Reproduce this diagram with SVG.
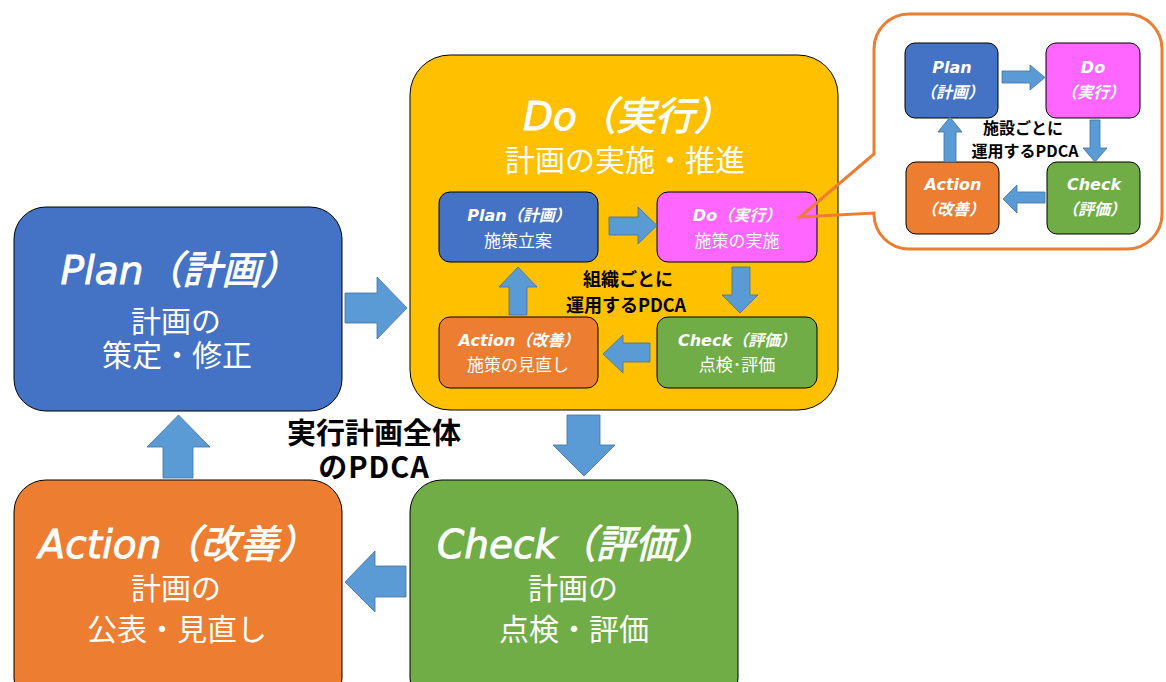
<svg xmlns="http://www.w3.org/2000/svg" width="1166" height="682" viewBox="0 0 1166 682">
<style>
text{font-family:"Noto Sans CJK JP","Noto Sans",sans-serif;text-anchor:middle}
.w{fill:#fff}
.k{fill:#000;font-weight:bold}
.ti{font-style:italic;font-family:"DejaVu Sans","Noto Sans CJK JP",sans-serif;stroke:#fff;stroke-width:0.9}
.big{font-size:39px}
.sub{font-size:30px}
.st{font-size:16px;font-weight:bold;font-style:italic;font-family:"DejaVu Sans","Noto Sans CJK JP",sans-serif}
.ss{font-size:17px}
.ct{font-size:16px;font-weight:bold;font-style:italic;font-family:"DejaVu Sans","Noto Sans CJK JP",sans-serif}
.box{stroke:#000;stroke-width:1}
.arr{fill:#5B9BD5;stroke:#41719C;stroke-width:0.8}
</style>
<rect width="1166" height="682" fill="#fff"/>
<g id="plan"><rect class="box" x="14" y="207" width="328" height="204" rx="32" fill="#4472C4"/>
<text class="w big ti" x="180" y="284">Plan（計画）</text>
<text class="w sub" x="176" y="332">計画の</text>
<text class="w sub" x="177" y="366">策定・修正</text></g>
<g id="do"><rect class="box" x="410" y="55" width="428" height="355" rx="40" fill="#FFC000"/>
<text class="w big ti" x="628" y="130">Do（実行）</text>
<text class="w sub" x="625" y="171">計画の実施・推進</text></g>
<g id="action"><rect class="box" x="14" y="480" width="328" height="230" rx="32" fill="#ED7D31"/>
<text class="w big ti" x="178" y="558">Action（改善）</text>
<text class="w sub" x="176" y="599">計画の</text>
<text class="w sub" x="177" y="640">公表・見直し</text></g>
<g id="check"><rect class="box" x="410" y="480" width="328" height="230" rx="32" fill="#70AD47"/>
<text class="w big ti" x="575" y="558">Check（評価）</text>
<text class="w sub" x="573" y="599">計画の</text>
<text class="w sub" x="574" y="640">点検・評価</text></g>
<g id="in-plan"><rect class="box" x="439" y="192" width="159" height="70" rx="11" fill="#4472C4"/>
<text class="w st" x="519" y="221">Plan（計画）</text>
<text class="w ss" x="518" y="247">施策立案</text></g>
<g id="in-do"><rect class="box" x="657" y="192" width="160" height="70" rx="11" fill="#FF66FF"/>
<text class="w st" x="737" y="221">Do（実行）</text>
<text class="w ss" x="737" y="247">施策の実施</text></g>
<g id="in-action"><rect class="box" x="439" y="317" width="159" height="71" rx="11" fill="#ED7D31"/>
<text class="w st" x="519" y="346">Action（改善）</text>
<text class="w ss" x="518" y="371">施策の見直し</text></g>
<g id="in-check"><rect class="box" x="657" y="317" width="160" height="71" rx="11" fill="#70AD47"/>
<text class="w st" x="737" y="346">Check（評価）</text>
<text class="w ss" x="737" y="371">点検･評価</text></g>
<g id="callout"><path d="M909,14 H1127 A35,35 0 0 1 1162,49 V214 A35,35 0 0 1 1127,249 H909 A35,35 0 0 1 874,214 V213 L800,217 L874,154 V49 A35,35 0 0 1 909,14 Z" fill="none" stroke="#ED7D31" stroke-width="3"/></g>
<g id="c-plan"><rect class="box" x="905" y="43" width="93" height="75" rx="10" fill="#4472C4"/>
<text class="w ct" x="952" y="73">Plan</text><text class="w ct" x="952" y="98">（計画）</text></g>
<g id="c-do"><rect class="box" x="1046" y="43" width="94" height="75" rx="10" fill="#FF66FF"/>
<text class="w ct" x="1093" y="73">Do</text><text class="w ct" x="1093" y="98">（実行）</text></g>
<g id="c-action"><rect class="box" x="906" y="162" width="93" height="72" rx="10" fill="#ED7D31"/>
<text class="w ct" x="953" y="190">Action</text><text class="w ct" x="953" y="215">（改善）</text></g>
<g id="c-check"><rect class="box" x="1047" y="162" width="93" height="72" rx="10" fill="#70AD47"/>
<text class="w ct" x="1094" y="190">Check</text><text class="w ct" x="1094" y="215">（評価）</text></g>
<g id="labels">
<text class="k" x="374" y="444" font-size="29">実行計画全体</text>
<text class="k" x="374" y="478" font-size="29" letter-spacing="1">のPDCA</text>
<text class="k" x="628" y="286" font-size="18">組織ごとに</text>
<text class="k" x="626" y="312" font-size="18">運用するPDCA</text>
<text class="k" x="1023" y="134" font-size="16">施設ごとに</text>
<text class="k" x="1025" y="157" font-size="16">運用するPDCA</text>
</g>
<g id="connectors">
<path class="arr" d="M345,293 H377 V277 L407,308 L377,339 V323 H345 Z"/>
<path class="arr" d="M163,478 V447 H147 L178.5,415 L210,447 H193 V478 Z"/>
<path class="arr" d="M567,415 H600 V445 H615 L584,476 L553,445 H567 Z"/>
<path class="arr" d="M406,566 V597 H375 V612 L345,582 L375,551 V566 Z"/>
<path class="arr" d="M609,217 H638 V207 L657,225.5 L638,244 V235 H609 Z"/>
<path class="arr" d="M732,267 H750 V295 H758 L740,313 L722,295 H732 Z"/>
<path class="arr" d="M650,343 V362 H623 V373 L603,354 L623,335 V343 Z"/>
<path class="arr" d="M509,315 V287 H499 L518,267 L537,287 H527 V315 Z"/>
<path class="arr" d="M1002,71 H1030 V65 L1045,77.5 L1030,90 V83 H1002 Z"/>
<path class="arr" d="M1090,120 H1100 V148 H1107 L1095,162 L1083,148 H1090 Z"/>
<path class="arr" d="M1045,192 V203 H1017 V213 L1003,199 L1017,185 V192 Z"/>
<path class="arr" d="M944,162 V132 H938 L950,117 L962,132 H956 V162 Z"/>
</g>
</svg>
